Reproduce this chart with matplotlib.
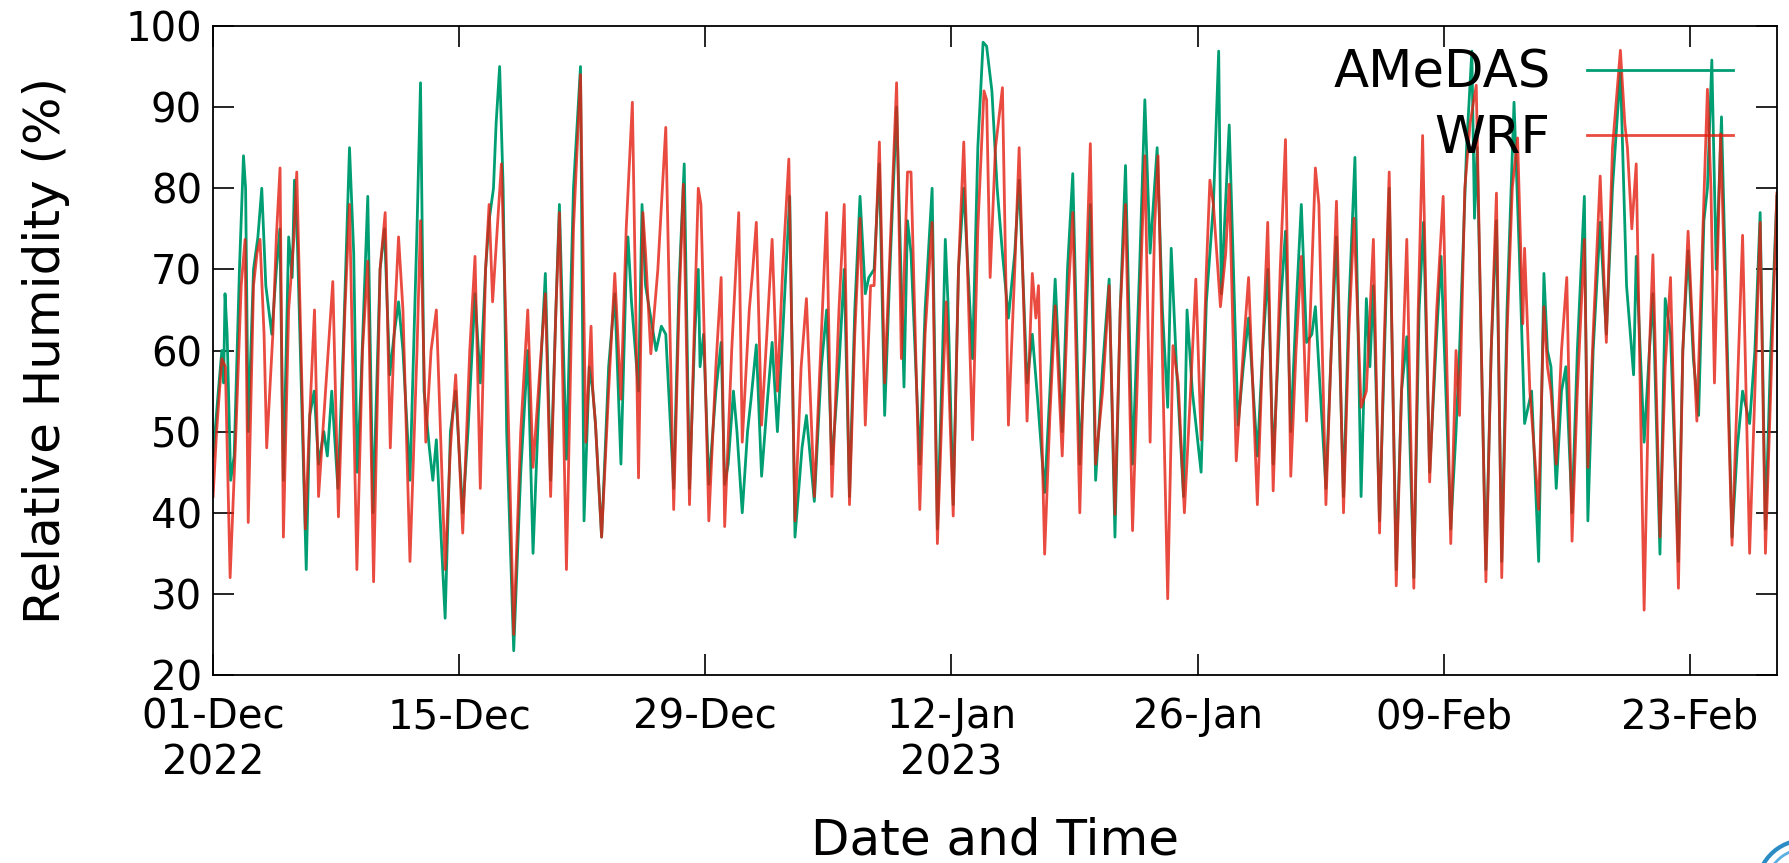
import matplotlib
matplotlib.use('Agg')
import matplotlib.pyplot as plt
from matplotlib.patches import Arc
import pandas as pd

# Hourly relative humidity, Dec 2022 - Feb 2023 (turning points, days since 01-Dec)
START = pd.Timestamp('2022-12-01 00:00')
END = pd.Timestamp('2023-02-27 23:00')

amedas_day = [
    0, 0.3, 0.5, 0.6, 0.68, 0.8, 1.0, 1.2, 1.5, 1.73, 1.85, 2.0, 2.3, 2.55, 2.77, 3.0,
    3.34, 3.6, 3.8, 4.0, 4.3, 4.5, 4.63, 4.8, 5.3, 5.5, 5.75, 6.0, 6.3, 6.5, 6.75, 7.1,
    7.4, 7.76, 8.0, 8.2, 8.4, 8.8, 9.1, 9.5, 9.75, 10.05, 10.3, 10.55,
    10.8, 11.2, 11.6, 11.8, 12.0, 12.3, 12.5, 12.7, 13.2, 13.5, 13.8, 14.2, 14.5, 14.9,
    15.2, 15.5, 15.7, 15.95, 16.1, 16.3, 16.5, 16.7, 17.1, 17.5, 17.9, 18.2, 18.5, 18.9,
    19.2, 19.5, 19.7, 20.1, 20.5, 20.9, 21.1, 21.4, 21.6,
    21.75, 22.1, 22.5, 22.85, 23.2, 23.5, 23.6, 23.8, 24.2, 24.4, 24.6, 24.9, 25.2, 25.5,
    25.75, 26.2, 26.5, 26.8, 27.1, 27.4, 27.6, 27.7, 27.9, 28.2, 28.6, 28.9, 29.1, 29.3,
    29.6, 29.8, 30.1, 30.4, 30.6, 30.9, 31.2, 31.5, 31.8, 32.1, 32.4, 32.8,
    33.1, 33.5, 33.75, 34.2, 34.6, 34.9, 35.2, 35.6, 35.9, 36.2, 36.5, 36.8, 37.1, 37.3,
    37.6, 37.9, 38.2, 38.5, 38.88, 39.3, 39.5, 39.7, 40.2, 40.5, 40.9, 41.2, 41.5, 41.65,
    41.8, 42.1, 42.4, 42.7, 43.2, 43.5, 43.8, 44.0,
    44.3, 44.6, 44.9, 45.24, 45.6, 45.85, 46.3, 46.6, 46.9, 47.3, 47.6, 47.9, 48.3, 48.6,
    48.9, 49.3, 49.6, 49.9, 50.2, 50.6, 50.97, 51.3, 51.6, 51.9, 52.3, 52.7, 53.0, 53.3,
    53.7, 54.0, 54.3, 54.5, 54.8, 55.2,
    55.4, 55.7, 56.2, 56.5, 56.9, 57.2, 57.35, 57.8, 58.3, 58.6, 58.9, 59.4, 59.7, 60.0,
    60.3, 60.7, 61.0, 61.3, 61.6, 61.9, 62.2, 62.5, 62.7, 63.3, 63.6, 63.9, 64.3, 64.6,
    64.95, 65.3, 65.6, 65.8, 66.0,
    66.35, 66.9, 67.3, 67.6, 67.9, 68.3, 68.6, 68.85, 69.2, 69.6, 69.85, 70.4, 70.7, 70.9,
    71.3, 71.6, 71.75, 71.9, 72.4, 72.7, 73.0, 73.3, 73.6, 74.0, 74.3, 74.6, 75.0, 75.4,
    75.7, 75.9, 76.1, 76.4, 76.7, 76.95, 77.3,
    77.6, 78.0, 78.2, 78.5, 78.9, 79.25, 79.6, 80.05, 80.4, 80.8, 80.95, 81.4, 81.7, 81.9,
    82.3, 82.6, 82.9, 83.35, 83.6, 83.9, 84.2, 84.5, 84.8, 85.0, 85.25, 85.5, 85.8, 86.4,
    86.7, 87.0, 87.4, 87.7, 88.0, 88.3, 88.6, 88.95,
]
amedas_rh = [
    47, 55, 60, 56, 67, 62, 44, 47, 70, 84, 80, 50, 70, 74, 80, 68,
    62, 70, 75, 44, 74, 69, 81, 73, 33, 52, 55, 46, 50, 47, 55, 43,
    60, 85, 72, 45, 55, 79, 40, 70, 75, 57, 62, 66,
    60, 44, 75, 93, 55, 48, 44, 49, 27, 50, 55, 40, 50, 67,
    56, 70, 76, 80, 88, 95, 80, 50, 23, 45, 60, 35, 52, 69.5,
    44, 65, 78, 46.6, 80, 95, 39, 58, 55,
    51, 37, 58, 67, 46, 70, 74, 66, 55, 78, 68, 64, 60, 63,
    62, 43, 68, 83, 43, 62, 70, 58, 62, 43.5, 55, 61, 43.5, 46,
    55, 50, 40, 50, 54, 60.7, 44.5, 53, 61, 50, 62, 79,
    37, 48, 52, 41.4, 58, 65, 46, 58, 70, 42, 65, 79, 67, 69,
    70, 83, 52, 70, 90, 55.5, 76, 72, 46, 65, 80, 38, 60, 73.7,
    66, 41, 70, 80, 59, 85, 98, 97.5,
    92, 80, 72, 64, 72, 81, 56, 62, 54, 42.5, 55, 68.8, 50, 70,
    81.8, 46, 60, 78, 44, 58, 68.8, 37, 65, 82.8, 46, 70, 90.9, 72,
    85, 65, 53, 72.6, 58, 42,
    65, 55, 45, 66, 78, 96.9, 67, 87.8, 50.8, 58, 64, 47, 60, 70,
    46, 65, 74.7, 50, 65, 78, 61, 62, 65.4, 43, 60, 74, 42, 65,
    83.8, 42, 66.4, 58, 68,
    39, 80, 33, 55, 61.7, 32, 65, 75.8, 45, 62, 71.6, 38, 50, 60,
    85, 96.9, 76.3, 85, 33, 60, 76, 34, 65, 90.6, 72, 51, 55, 34,
    69.5, 60, 58, 43, 55, 58, 40,
    60, 79, 39, 60, 75.8, 62, 80, 94.5, 68, 57, 71.6, 48.7, 60, 67,
    34.9, 66.4, 62, 34, 60, 72.3, 59, 52, 76, 80, 95.8, 70, 88.8, 37,
    48, 55, 51, 60, 77, 38, 60, 79,
]

wrf_day = [
    0, 0.2, 0.5, 0.7, 0.97, 1.3, 1.6, 1.82, 2.0, 2.3, 2.5, 2.67, 2.9, 3.05, 3.4, 3.6,
    3.81, 4.0, 4.3, 4.6, 4.76, 5.25, 5.5, 5.77, 6.0, 6.4, 6.81, 7.13, 7.5, 7.76, 8.18, 8.5,
    8.8, 9.13, 9.5, 9.79, 10.08, 10.35, 10.55,
    10.8, 11.2, 11.6, 11.8, 12.1, 12.4, 12.7, 13.2, 13.5, 13.8, 14.2, 14.6, 14.9, 15.2,
    15.5, 15.7, 15.9, 16.4, 16.7, 17.1, 17.5, 17.9, 18.2, 18.6, 18.9, 19.2, 19.5, 19.7,
    20.1, 20.5, 20.9, 21.2, 21.5, 21.6,
    21.75, 22.1, 22.5, 22.85, 23.2, 23.5, 23.85, 24.2, 24.45, 24.6, 24.9, 25.3, 25.75, 26.2,
    26.5, 26.75, 27.1, 27.4, 27.6, 27.75, 28.2, 28.6, 28.9, 29.1, 29.5, 29.9, 30.1, 30.5,
    30.7, 30.9, 31.2, 31.5, 31.8, 32.1, 32.4, 32.75,
    33.1, 33.45, 33.75, 34.2, 34.6, 34.9, 35.2, 35.6, 35.9, 36.2, 36.5, 36.8, 37.1, 37.4,
    37.6, 37.9, 38.2, 38.5, 38.88, 39.15, 39.5, 39.7, 40.2, 40.5, 40.9, 41.2, 41.5, 41.7,
    42.1, 42.4, 42.7, 43.2, 43.5, 43.85, 44.0,
    44.2, 44.5, 44.9, 45.24, 45.6, 45.85, 46.3, 46.6, 46.8, 46.95, 47.3, 47.6, 47.9, 48.3,
    48.6, 48.9, 49.3, 49.6, 49.9, 50.2, 50.6, 50.97, 51.3, 51.6, 51.9, 52.3, 52.7, 53.0,
    53.3, 53.55, 53.75, 54.3, 54.6, 54.9, 55.25,
    55.6, 55.9, 56.2, 56.5, 56.7, 56.9, 57.3, 57.6, 57.8, 58.2, 58.6, 58.9, 59.4, 59.7,
    59.99, 60.3, 60.7, 61.0, 61.3, 61.6, 61.9, 62.2, 62.5, 62.7, 62.9, 63.3, 63.6, 63.9,
    64.3, 64.6, 64.9, 65.3, 65.6, 66.0,
    66.35, 66.6, 66.9, 67.3, 67.6, 67.9, 68.3, 68.55, 68.8, 69.2, 69.6, 69.97, 70.4, 70.7,
    70.9, 71.2, 71.5, 71.85, 72.4, 72.7, 73.0, 73.3, 73.6, 73.9, 74.2, 74.5, 74.6, 74.9,
    75.4, 75.7, 75.9, 76.1, 76.4, 76.7, 77.0, 77.3,
    77.6, 78.0, 78.2, 78.5, 78.9, 79.25, 79.6, 80.05, 80.3, 80.45, 80.7, 80.95, 81.4, 81.7,
    81.9, 82.3, 82.6, 82.9, 83.35, 83.6, 83.9, 84.4, 84.7, 85.0, 85.2, 85.4, 85.75, 86.4,
    86.7, 87.0, 87.4, 87.7, 88.0, 88.3, 88.6, 88.95,
]
wrf_rh = [
    42, 50, 59, 58, 32, 50, 68, 73.7, 38.8, 68, 72, 73.7, 62, 48, 62, 74,
    82.5, 37, 65, 74, 82, 38, 52, 65, 42, 55, 68.5, 39.5, 65, 78, 33, 60,
    71, 31.5, 70, 77, 48, 65, 74,
    65, 34, 60, 76, 48.7, 60, 65, 33, 48, 57, 37.5, 60, 71.6, 43,
    70, 78, 66, 83, 60, 25, 50, 65, 45.6, 58, 67, 42, 65, 77,
    33, 75, 94, 48.7, 63, 55,
    51, 37, 55, 69.5, 54, 75, 90.6, 44.3, 77, 72, 59.6, 70, 87.5, 40.4,
    65, 80.5, 41, 65, 80, 78, 39, 58, 69, 38.3, 60, 77, 48.7, 65,
    70, 75.8, 50.8, 62, 73.7, 55, 70, 83.6,
    39, 58, 66.4, 42, 62, 77, 42, 65, 78, 41, 62, 76.3, 50.8, 68,
    68, 85.7, 56, 72, 93, 59, 82, 82, 40.4, 62, 75.8, 36.2, 55, 66,
    39.6, 70, 85.7, 49, 75, 92, 90.9,
    69, 84.9, 92.4, 50.8, 70, 85, 51.3, 69.5, 64, 68, 34.9, 52, 65.5, 47,
    65, 77, 40, 65, 85.5, 46, 55, 68, 39.8, 65, 78, 37.8, 65, 84,
    48.7, 75, 84, 29.4, 60.6, 56, 40,
    55, 68.8, 49, 70, 81, 78, 65.4, 72, 80.5, 46.4, 60, 69, 41, 60,
    75.8, 42.7, 70, 86, 44.5, 60, 71.6, 51.3, 70, 82.5, 78, 41, 60, 78.4,
    40, 62, 76.3, 53, 55, 73.7,
    37.5, 60, 82, 31, 55, 73.7, 30.7, 65, 86.5, 43.8, 65, 79, 36.2, 60,
    52, 80, 88, 92.7, 31.5, 60, 79.4, 32, 62, 80, 86.2, 63.3, 72.6, 55,
    40.4, 65.4, 58, 55, 46, 60, 69, 36.5,
    55, 73.7, 45.6, 62, 81.5, 61, 85, 97, 88, 85, 75, 83, 28, 60,
    71.8, 37, 58, 69, 30.7, 60, 74.7, 51.3, 72, 92.2, 80, 56, 86.7, 36,
    55, 74.2, 35, 55, 75.8, 35, 55, 79.4,
]

tick_dates = ['2022-12-01', '2022-12-15', '2022-12-29', '2023-01-12',
              '2023-01-26', '2023-02-09', '2023-02-23']
tick_labels = ['01-Dec\n2022', '15-Dec', '29-Dec', '12-Jan\n2023',
               '26-Jan', '09-Feb', '23-Feb']
y_ticks = [20, 30, 40, 50, 60, 70, 80, 90, 100]

AMEDAS_COLOR = '#009e73'
WRF_COLOR = '#e51e10'


def to_time(days):
    return START + pd.to_timedelta(days, unit='D')


plt.rcParams['font.family'] = ['DejaVu Sans']

fig = plt.figure(figsize=(17.89, 8.63), dpi=100)
ax = fig.add_axes([0.1191, 0.2178, 0.8742, 0.7521])

ax.plot(to_time(amedas_day), amedas_rh, color=AMEDAS_COLOR, lw=2.0, label='AMeDAS')
ax.plot(to_time(wrf_day), wrf_rh, color=WRF_COLOR, lw=2.0, alpha=0.8, label='WRF')

ax.set_xlim(START, END)
ax.set_ylim(20, 100)
ax.set_xticks(pd.to_datetime(tick_dates))
ax.set_xticklabels(tick_labels)
ax.set_yticks(y_ticks)

ax.tick_params(axis='both', direction='in', length=15, width=1.2,
               top=True, right=True, labelsize=29)
ax.tick_params(axis='x', pad=16)
ax.tick_params(axis='y', pad=8)
for side in ax.spines.values():
    side.set_linewidth(1.3)

ax.set_ylabel('Relative Humidity (%)', fontsize=36, labelpad=40)
ax.set_xlabel('Date and Time', fontsize=36, labelpad=24)

ax.legend(loc='upper right', bbox_to_anchor=(0.972, 0.965), frameon=False,
          markerfirst=False, fontsize=37, handlelength=2.85, handletextpad=0.7,
          labelspacing=0.3, borderpad=0, borderaxespad=0)

# corner swoosh (inches from the lower-left corner)
for diam, w, c in [(0.96, 3.0, '#2b8cc4'), (0.78, 2.0, '#5aaee0')]:
    fig.add_artist(Arc((18.05, -0.25), diam, diam, theta1=100, theta2=150,
                       transform=fig.dpi_scale_trans, color=c, lw=w))

fig.savefig('out.png', dpi=100)
